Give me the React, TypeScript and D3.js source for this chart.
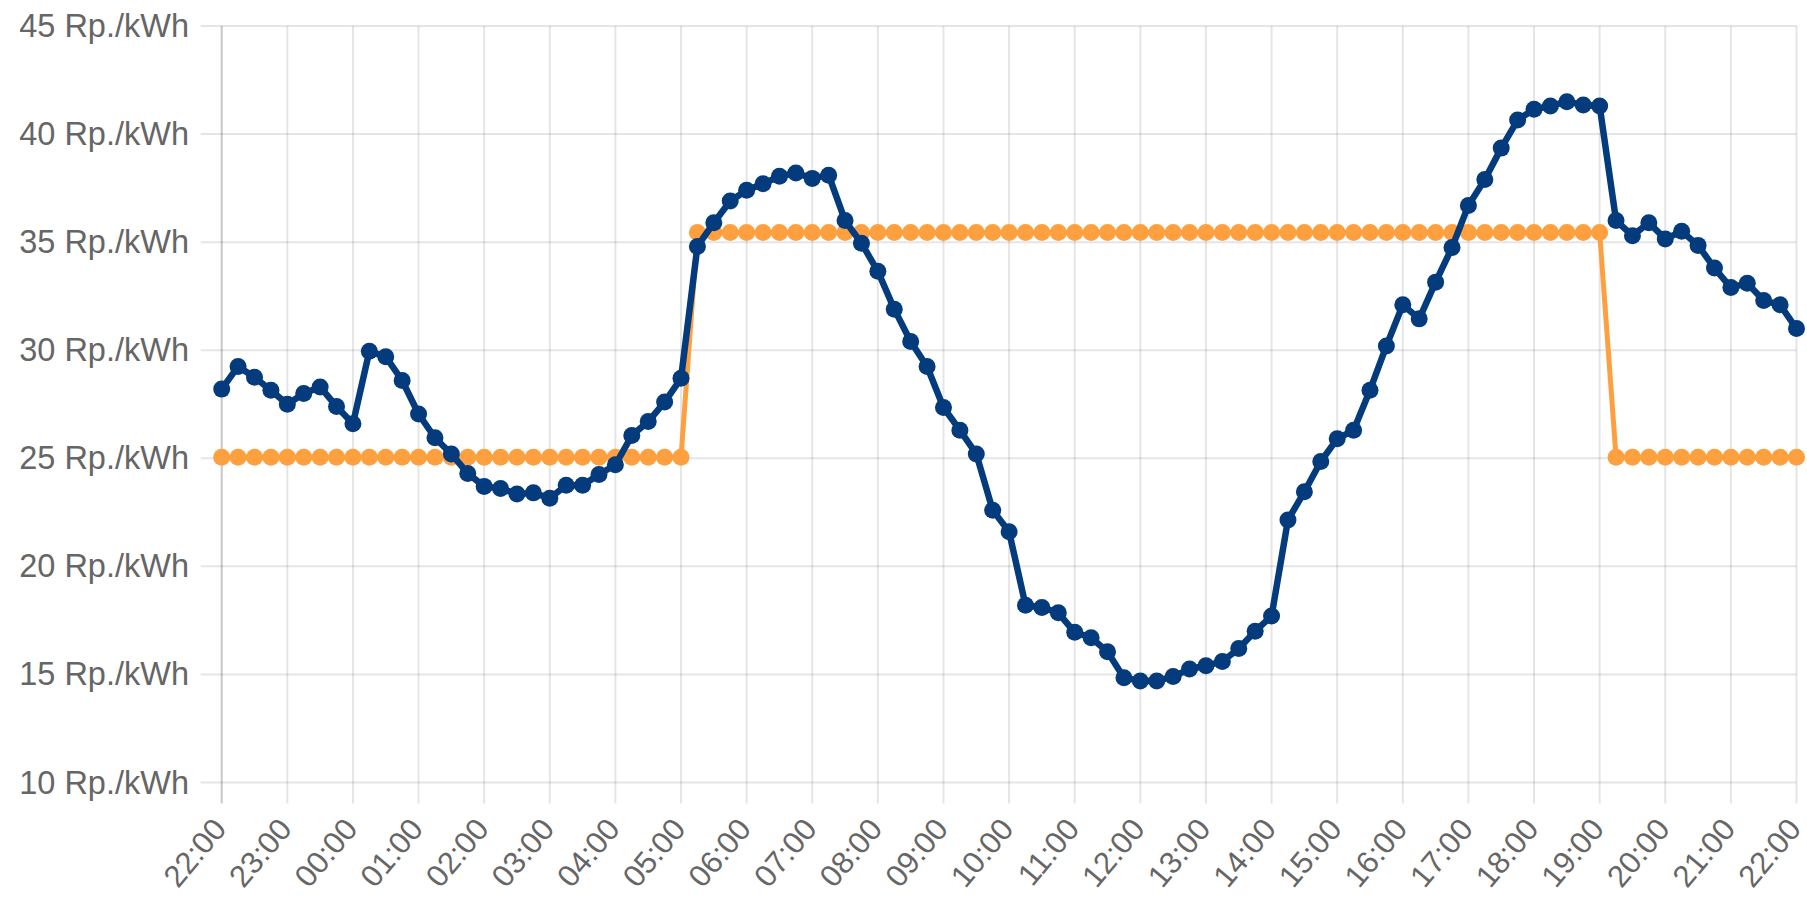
import React from "react";
import * as d3 from "d3";

const hourLabels: string[] = [
  "22:00", "23:00", "00:00", "01:00", "02:00", "03:00", "04:00", "05:00",
  "06:00", "07:00", "08:00", "09:00", "10:00", "11:00", "12:00", "13:00",
  "14:00", "15:00", "16:00", "17:00", "18:00", "19:00", "20:00", "21:00", "22:00",
];

const yTicks: number[] = [10, 15, 20, 25, 30, 35, 40, 45];

// 15-minute prices, 22:00 -> 22:00 (97 points)
const spotPrice: number[] = [
  28.2, 29.25, 28.75, 28.15, 27.5, 28.0, 28.3, 27.4,
  26.6, 29.95, 29.7, 28.6, 27.05, 25.95, 25.2, 24.3,
  23.7, 23.6, 23.35, 23.4, 23.15, 23.75, 23.75, 24.25,
  24.7, 26.05, 26.7, 27.6, 28.7, 34.8, 35.9, 36.9,
  37.4, 37.7, 38.05, 38.2, 37.95, 38.1, 36.0, 34.95,
  33.65, 31.9, 30.4, 29.25, 27.35, 26.3, 25.2, 22.6,
  21.6, 18.2, 18.1, 17.85, 16.95, 16.7, 16.05, 14.85,
  14.7, 14.7, 14.9, 15.25, 15.4, 15.6, 16.2, 17.0,
  17.7, 22.15, 23.45, 24.85, 25.9, 26.3, 28.15, 30.2,
  32.1, 31.45, 33.15, 34.75, 36.7, 37.9, 39.35, 40.65,
  41.15, 41.3, 41.5, 41.35, 41.3, 36.0, 35.3, 35.9,
  35.15, 35.5, 34.85, 33.8, 32.9, 33.1, 32.3, 32.1,
  31.0,
];

const tariffPrice: number[] = [
  25.05, 25.05, 25.05, 25.05, 25.05, 25.05, 25.05, 25.05,
  25.05, 25.05, 25.05, 25.05, 25.05, 25.05, 25.05, 25.05,
  25.05, 25.05, 25.05, 25.05, 25.05, 25.05, 25.05, 25.05,
  25.05, 25.05, 25.05, 25.05, 25.05, 35.45, 35.45, 35.45,
  35.45, 35.45, 35.45, 35.45, 35.45, 35.45, 35.45, 35.45,
  35.45, 35.45, 35.45, 35.45, 35.45, 35.45, 35.45, 35.45,
  35.45, 35.45, 35.45, 35.45, 35.45, 35.45, 35.45, 35.45,
  35.45, 35.45, 35.45, 35.45, 35.45, 35.45, 35.45, 35.45,
  35.45, 35.45, 35.45, 35.45, 35.45, 35.45, 35.45, 35.45,
  35.45, 35.45, 35.45, 35.45, 35.45, 35.45, 35.45, 35.45,
  35.45, 35.45, 35.45, 35.45, 35.45, 25.05, 25.05, 25.05,
  25.05, 25.05, 25.05, 25.05, 25.05, 25.05, 25.05, 25.05,
  25.05,
];

const W = 1807;
const H = 899;
const left = 221.7;
const right = 1796.5;
const top = 26;
const bottom = 782.5;

const BLUE = "#043b7c";
const ORANGE = "#ffa040";
const GRID = "rgba(0,0,0,0.1)";
const TEXT = "#666666";
const FONT = "'Liberation Sans', Arial, Helvetica, sans-serif";

export default function App() {
  const n = spotPrice.length - 1;
  const x = d3.scaleLinear().domain([0, n]).range([left, right]);
  const y = d3.scaleLinear().domain([10, 45]).range([bottom, top]);
  const line = d3
    .line<number>()
    .x((_, i) => x(i))
    .y((d) => y(d));

  const hourIdx = hourLabels.map((_, i) => i * 4);

  return (
    <div style={{ position: "absolute", left: 0, top: 0, width: W, height: H, background: "#fff" }}>
      <svg width={W} height={H} style={{ display: "block" }} fontFamily={FONT}>
        <rect x={0} y={0} width={W} height={H} fill="#ffffff" />
        {/* horizontal grid */}
        {yTicks.map((t) => (
          <line key={"h" + t} x1={left - 21} x2={right} y1={y(t)} y2={y(t)} stroke={GRID} strokeWidth={2} />
        ))}
        {/* vertical grid */}
        {hourIdx.map((i, k) => (
          <line
            key={"v" + k}
            x1={x(i)}
            x2={x(i)}
            y1={top}
            y2={bottom + 21}
            stroke={k === 0 ? "rgba(0,0,0,0.22)" : GRID}
            strokeWidth={2}
          />
        ))}
        {/* y labels */}
        {yTicks.map((t) => (
          <text
            key={"yl" + t}
            x={189}
            y={y(t)}
            textAnchor="end"
            dominantBaseline="central"
            fontSize={32.5}
            fill={TEXT}
          >
            {t} Rp./kWh
          </text>
        ))}
        {/* x labels */}
        {hourLabels.map((lab, k) => (
          <text
            key={"xl" + k}
            transform={`translate(${x(hourIdx[k]) - 2},${823}) rotate(-50)`}
            textAnchor="end"
            dominantBaseline="central"
            fontSize={31}
            fill={TEXT}
          >
            {lab}
          </text>
        ))}
        {/* tariff series */}
        <path d={line(tariffPrice) || ""} fill="none" stroke={ORANGE} strokeWidth={5} strokeLinejoin="round" />
        {tariffPrice.map((v, i) => (
          <circle key={"o" + i} cx={x(i)} cy={y(v)} r={8.5} fill={ORANGE} />
        ))}
        {/* spot series */}
        <path d={line(spotPrice) || ""} fill="none" stroke={BLUE} strokeWidth={6.5} strokeLinejoin="round" />
        {spotPrice.map((v, i) => (
          <circle key={"b" + i} cx={x(i)} cy={y(v)} r={8.5} fill={BLUE} />
        ))}
      </svg>
    </div>
  );
}
